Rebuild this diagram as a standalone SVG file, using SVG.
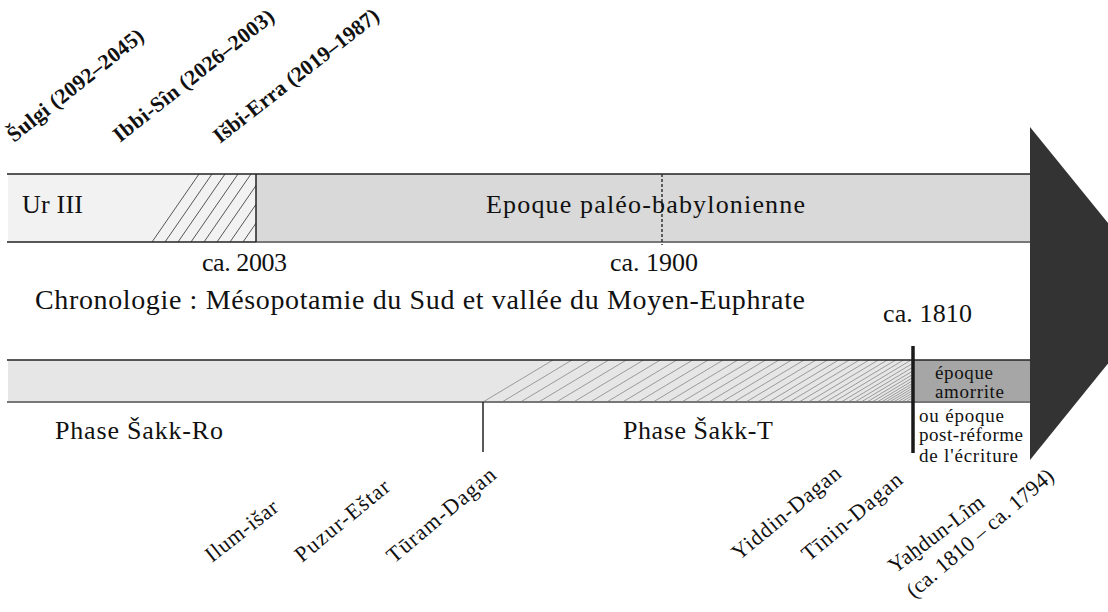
<svg xmlns="http://www.w3.org/2000/svg" width="1108" height="612" viewBox="0 0 1108 612">
<style>
.t{font-family:"Liberation Serif","Times New Roman",serif;fill:#111}
.m{font-size:26px}
.s{font-size:19px}
.r{font-size:22px}
.b{font-size:21.5px;font-weight:bold}
.dk{stroke:#222;stroke-width:1.5;fill:none}
.gr{stroke:#777;stroke-width:2;fill:none}
</style>
<defs>
<clipPath id="c1"><rect x="8" y="174" width="248" height="68"/></clipPath>
<clipPath id="c2"><rect x="483" y="360" width="429" height="42"/></clipPath>
</defs>
<rect width="1108" height="612" fill="#fff"/>

<g id="bar-top">
<rect x="8" y="174" width="248" height="68" fill="#f2f2f2"/>
<rect x="256" y="174" width="774" height="68" fill="#d9d9d9"/>
<path d="M152 242l47-68M165 242l47-68M178 242l47-68M191 242l47-68M204 242l47-68M217 242l47-68M230 242l47-68M243 242l47-68" stroke="#555" stroke-width="1" clip-path="url(#c1)"/>
<line class="dk" x1="7" y1="174" x2="1030" y2="174"/>
<line class="dk" x1="7" y1="242" x2="256" y2="242"/>
<line class="gr" x1="256" y1="242" x2="1030" y2="242"/>
<line class="dk" x1="256" y1="174" x2="256" y2="242" stroke-width="2"/>
<line x1="662" y1="174" x2="662" y2="245" stroke="#333" stroke-width="1.5" stroke-dasharray="3,2"/>
<text class="t m" x="22" y="213" textLength="61">Ur III</text>
<text class="t m" x="486" y="213" textLength="319">Epoque paléo-babylonienne</text>
</g>

<g id="dates-top">
<text class="t m" x="202" y="271" textLength="85">ca. 2003</text>
<text class="t m" x="610" y="271" textLength="88">ca. 1900</text>
</g>

<g id="title">
<text class="t" font-size="28" x="35" y="309" textLength="770">Chronologie : Mésopotamie du Sud et vallée du Moyen-Euphrate</text>
</g>

<g id="bar-bottom">
<rect x="8" y="360" width="1022" height="42" fill="#e6e6e6"/>
<path d="M483 402l70-42M502 402l70-42M520.6 402l70-42M538.7 402l70-42M556.4 402l70-42M573.6 402l70-42M590.4 402l70-42M606.8 402l70-42M622.7 402l70-42M638.2 402l70-42M653.2 402l70-42M667.8 402l70-42M681.9 402l70-42M695.6 402l70-42M708.9 402l70-42M721.7 402l70-42M734.1 402l70-42M746 402l70-42M757.5 402l70-42M768.6 402l70-42M779.2 402l70-42M789.4 402l70-42M799.1 402l70-42M808.4 402l70-42M817.3 402l70-42M825.7 402l70-42M833.6 402l70-42M841.2 402l70-42M848.3 402l70-42M854.9 402l70-42M861.1 402l70-42M866.9 402l70-42M872.2 402l70-42M877.1 402l70-42M881.5 402l70-42M885.5 402l70-42M889.5 402l70-42M893.5 402l70-42M897.5 402l70-42M901.5 402l70-42M905.5 402l70-42M909.5 402l70-42" stroke="#9a9a9a" stroke-width="1" clip-path="url(#c2)"/>
<rect x="913" y="360" width="117" height="42" fill="#a6a6a6"/>
<line class="dk" x1="7" y1="360" x2="1030" y2="360"/>
<line class="gr" x1="7" y1="402" x2="1030" y2="402"/>
<text class="t m" x="55" y="439" textLength="168">Phase Šakk-Ro</text>
<text class="t m" x="623" y="439" textLength="150">Phase Šakk-T</text>
</g>

<g id="marks">
<line x1="483" y1="402" x2="483" y2="452" stroke="#222" stroke-width="1.5"/>
<line x1="913" y1="346" x2="913" y2="453" stroke="#1a1a1a" stroke-width="3.5"/>
<text class="t m" x="883" y="322" textLength="89">ca. 1810</text>
</g>

<g id="amorrite">
<text class="t s" x="935" y="379" textLength="58">époque</text>
<text class="t s" x="935" y="398" textLength="69">amorrite</text>
<text class="t s" x="919" y="422" textLength="85">ou époque</text>
<text class="t s" x="919" y="441" textLength="104">post-réforme</text>
<text class="t s" x="919" y="462" textLength="99">de l'écriture</text>
</g>

<g id="arrow">
<polygon points="1030,127 1165,293 1030,460" fill="#333"/>
</g>

<g id="rulers-top">
<text class="t b" transform="translate(14,143) rotate(-38.5)" textLength="168">Šulgi (2092–2045)</text>
<text class="t b" transform="translate(120,143) rotate(-38.5)" textLength="199">Ibbi-Sîn (2026–2003)</text>
<text class="t b" transform="translate(220,144) rotate(-38)" textLength="204">Išbi-Erra (2019–1987)</text>
</g>

<g id="rulers-bottom">
<text class="t r" transform="translate(212,563) rotate(-38)" textLength="86">Ilum-išar</text>
<text class="t r" transform="translate(302,563) rotate(-39.5)" textLength="116">Puzur-Eštar</text>
<text class="t r" transform="translate(394,564) rotate(-40)" textLength="135">Tūram-Dagan</text>
<text class="t r" transform="translate(739,561) rotate(-39.5)" textLength="134">Yiddin-Dagan</text>
<text class="t r" transform="translate(809,562) rotate(-40)" textLength="124">Tīnin-Dagan</text>
<text class="t r" transform="translate(895,574) rotate(-37)" textLength="114">Yaḫdun-Lîm</text>
<text class="t r" transform="translate(914,599) rotate(-40.5)" textLength="186">(ca. 1810 – ca. 1794)</text>
</g>
</svg>
